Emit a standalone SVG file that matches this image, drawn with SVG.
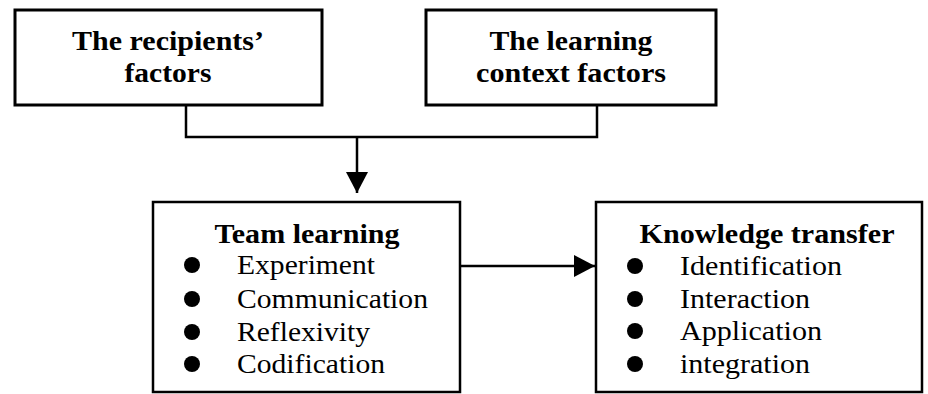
<svg xmlns="http://www.w3.org/2000/svg" width="928" height="394" viewBox="0 0 928 394">
<style>
.box{fill:#fff;stroke:#000}
.t{font-family:"Liberation Serif","Times New Roman",serif;font-size:27px;fill:#000}
.b{font-weight:bold}
.ln{stroke:#000;stroke-width:2.5;fill:none}
</style>
<defs>
<marker id="ah" markerUnits="userSpaceOnUse" markerWidth="22" markerHeight="22" refX="21" refY="11" orient="auto">
<path d="M0,0 L21,11 L0,22 Z" fill="#000"/>
</marker>
</defs>
<rect width="928" height="394" fill="#fff"/>
<g id="connectors">
<polyline class="ln" points="186,105 186,137 597,137 597,105"/>
<line class="ln" x1="357" y1="137" x2="357" y2="193" marker-end="url(#ah)"/>
<line class="ln" x1="460" y1="266" x2="595" y2="266" marker-end="url(#ah)"/>
</g>
<g id="recipients">
<rect class="box" x="15" y="10" width="307" height="95" stroke-width="3"/>
<text class="t b" x="168" y="50" text-anchor="middle" textLength="192" lengthAdjust="spacingAndGlyphs">The recipients’</text>
<text class="t b" x="168" y="82" text-anchor="middle" textLength="87" lengthAdjust="spacingAndGlyphs">factors</text>
</g>
<g id="context">
<rect class="box" x="426" y="10" width="290" height="95" stroke-width="3"/>
<text class="t b" x="571" y="50" text-anchor="middle" textLength="163" lengthAdjust="spacingAndGlyphs">The learning</text>
<text class="t b" x="571" y="82" text-anchor="middle" textLength="190" lengthAdjust="spacingAndGlyphs">context factors</text>
</g>
<g id="team">
<rect class="box" x="153" y="202" width="307" height="190" stroke-width="2.5"/>
<text class="t b" x="307" y="243" text-anchor="middle" textLength="185" lengthAdjust="spacingAndGlyphs">Team learning</text>
<circle cx="192" cy="265" r="8"/><text class="t" x="237" y="274" textLength="138" lengthAdjust="spacingAndGlyphs">Experiment</text>
<circle cx="192" cy="299" r="8"/><text class="t" x="237" y="308" textLength="191" lengthAdjust="spacingAndGlyphs">Communication</text>
<circle cx="192" cy="332" r="8"/><text class="t" x="237" y="341" textLength="133" lengthAdjust="spacingAndGlyphs">Reflexivity</text>
<circle cx="192" cy="364" r="8"/><text class="t" x="237" y="373" textLength="148" lengthAdjust="spacingAndGlyphs">Codification</text>
</g>
<g id="transfer">
<rect class="box" x="596" y="202" width="326" height="190" stroke-width="2.5"/>
<text class="t b" x="767" y="243" text-anchor="middle" textLength="255" lengthAdjust="spacingAndGlyphs">Knowledge transfer</text>
<circle cx="635" cy="266" r="8"/><text class="t" x="680" y="275" textLength="162" lengthAdjust="spacingAndGlyphs">Identification</text>
<circle cx="635" cy="299" r="8"/><text class="t" x="680" y="308" textLength="130" lengthAdjust="spacingAndGlyphs">Interaction</text>
<circle cx="635" cy="331" r="8"/><text class="t" x="680" y="340" textLength="142" lengthAdjust="spacingAndGlyphs">Application</text>
<circle cx="635" cy="364" r="8"/><text class="t" x="680" y="373" textLength="130" lengthAdjust="spacingAndGlyphs">integration</text>
</g>
</svg>
